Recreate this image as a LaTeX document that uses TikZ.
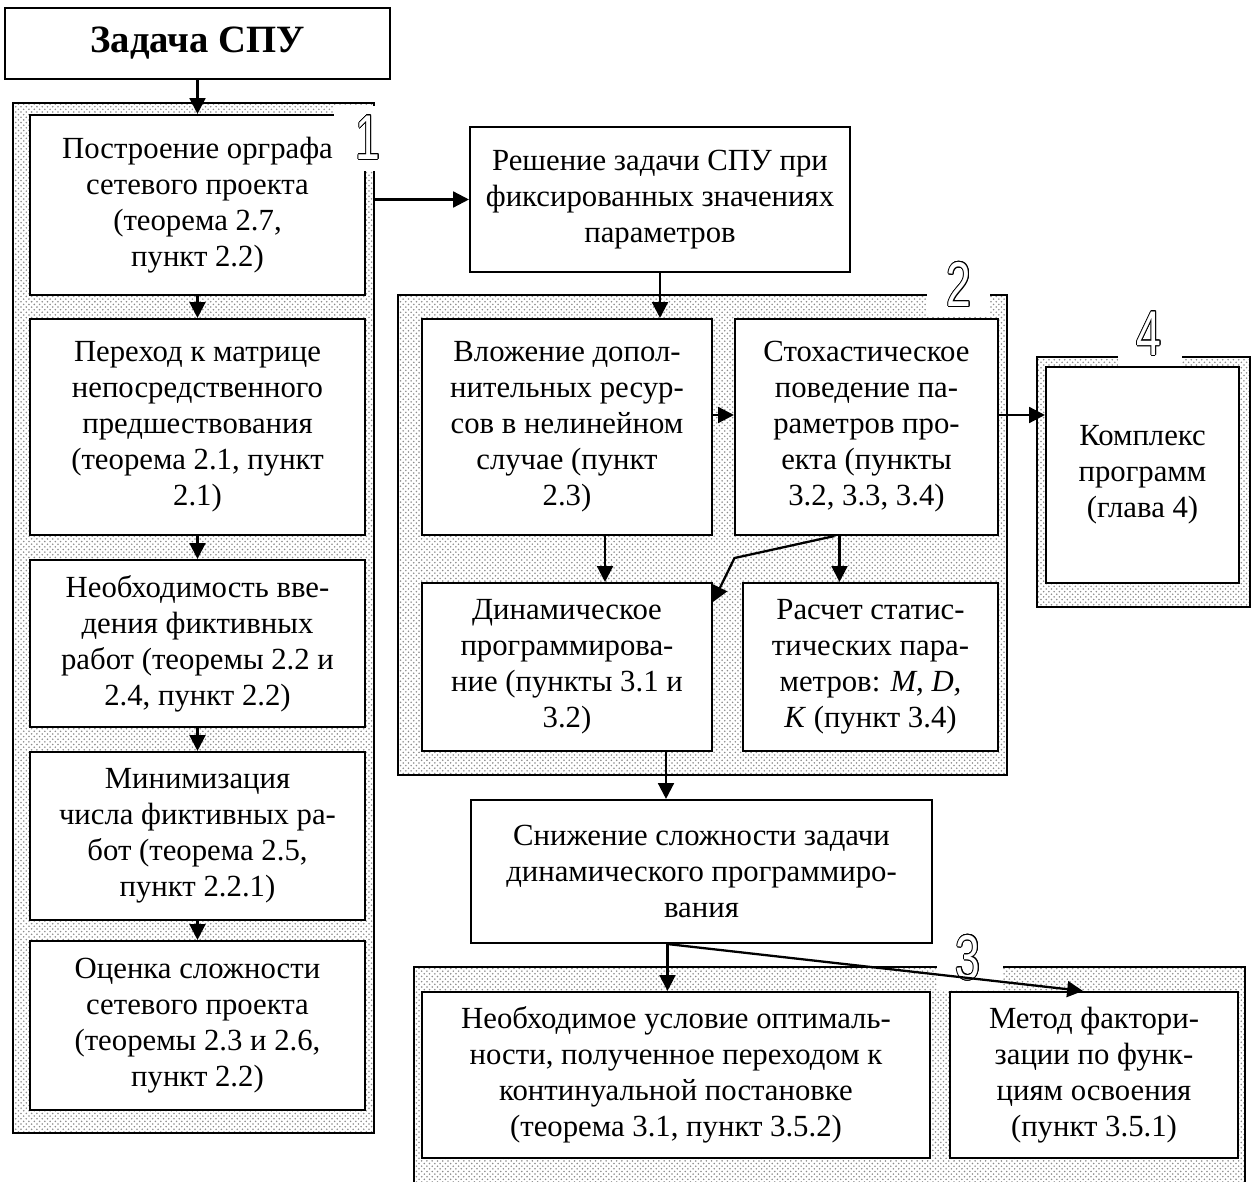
\documentclass[tikz,border=0pt]{standalone}
\usepackage{fontspec}
\setmainfont{Liberation Serif}
\newfontfamily\digitfont{Liberation Sans}
\usepackage{contour}
\contourlength{0.6pt}
\usetikzlibrary{arrows.meta, calc, patterns}

\begin{document}
\begin{tikzpicture}[x=0.02cm, y=-0.02cm,
    blk/.style={draw, line width=1.2pt, fill=white, align=center, inner sep=2pt,
                font=\fontsize{17.5}{20.5}\selectfont},
    grp/.style={draw, line width=1.3pt, pattern=crosshatch dots, pattern color=black!45,
                inner sep=0pt},
    num/.style={font=\digitfont\fontsize{36}{36}\selectfont, text=white, inner sep=0pt},
    arrow/.style={-{Triangle[length=9pt,width=9pt]}, line width=1.3pt}
  ]
    \useasboundingbox (0,0) rectangle (1252,1182);
    \clip (0,0) rectangle (1252,1182);

    \node[grp, minimum width=7.22cm, minimum height=20.6cm] (grp1) at (193.5,618) {};
    \node[grp, minimum width=12.18cm, minimum height=9.6cm] (grp2) at (702.5,535) {};
    \node[grp, minimum width=16.62cm, minimum height=4.56cm] (grp3) at (829.5,1081) {};
    \node[grp, minimum width=4.26cm, minimum height=5cm] (grp4) at (1143.5,482) {};

    \node[blk, font=\bfseries\fontsize{22}{26}\selectfont, minimum width=7.7cm,
          minimum height=1.42cm] (zad) at (197.5,43.5) {Задача СПУ};

    \node[blk, minimum width=6.7cm, minimum height=3.6cm] (postr) at (197.5,205)
      {Построение орграфа\\сетевого проекта\\(теорема 2.7,\\пункт 2.2)};
    \node[blk, minimum width=6.7cm, minimum height=4.32cm] (perehod) at (197.5,427)
      {Переход к матрице\\непосредственного\\предшествования\\(теорема 2.1, пункт\\2.1)};
    \node[blk, minimum width=6.7cm, minimum height=3.34cm] (fikt) at (197.5,643.5)
      {Необходимость вве-\\дения фиктивных\\работ (теоремы 2.2 и\\2.4, пункт 2.2)};
    \node[blk, minimum width=6.7cm, minimum height=3.36cm] (minim) at (197.5,836)
      {Минимизация\\числа фиктивных ра-\\бот (теорема 2.5,\\пункт 2.2.1)};
    \node[blk, minimum width=6.7cm, minimum height=3.38cm] (ocenka) at (197.5,1025.5)
      {Оценка сложности\\сетевого проекта\\(теоремы 2.3 и 2.6,\\пункт 2.2)};

    \node[blk, minimum width=7.6cm, minimum height=2.9cm] (res) at (660,199.5)
      {Решение задачи СПУ при\\фиксированных значениях\\параметров};

    \node[blk, minimum width=5.8cm, minimum height=4.32cm] (vlozh) at (567,427)
      {Вложение допол-\\нительных ресур-\\сов в нелинейном\\случае (пункт\\2.3)};
    \node[blk, minimum width=5.26cm, minimum height=4.32cm] (stoch) at (866.5,427)
      {Стохастическое\\поведение па-\\раметров про-\\екта (пункты\\3.2, 3.3, 3.4)};
    \node[blk, minimum width=5.8cm, minimum height=3.36cm] (dyn) at (567,667)
      {Динамическое\\программирова-\\ние (пункты 3.1 и\\3.2)};
    \node[blk, minimum width=5.1cm, minimum height=3.36cm] (stat) at (870.5,667)
      {Расчет статис-\\тических пара-\\метров: \textit{M, D,}\\\textit{K} (пункт 3.4)};

    \node[blk, minimum width=3.86cm, minimum height=4.32cm] (kompl) at (1142.5,475)
      {Комплекс\\программ\\ (глава 4)};

    \node[blk, minimum width=9.22cm, minimum height=2.86cm] (snizh) at (701.5,871.5)
      {Снижение сложности задачи\\динамического программиро-\\вания};

    \node[blk, minimum width=10.16cm, minimum height=3.32cm] (uslov) at (676,1075)
      {Необходимое условие оптималь-\\ности, полученное переходом к\\континуальной постановке\\(теорема 3.1, пункт 3.5.2)};
    \node[blk, minimum width=5.76cm, minimum height=3.32cm] (faktor) at (1094,1075)
      {Метод фактори-\\зации по функ-\\циям освоения\\(пункт 3.5.1)};

    \fill[white] (334,106) rectangle (382,171);
    \fill[white] (927,288) rectangle (990,317);
    \fill[white] (937,960) rectangle (1003,990);
    \fill[white] (1118,350) rectangle (1182,366);
    \node[num] (n1) at (368,138) {\scalebox{0.7}[1]{\contour{black}{1}}};
    \node[num] (n2) at (959,285) {\scalebox{0.7}[1]{\contour{black}{2}}};
    \node[num] (n3) at (968,958) {\scalebox{0.7}[1]{\contour{black}{3}}};
    \node[num] (n4) at (1149,334) {\scalebox{0.7}[1]{\contour{black}{4}}};

    \draw[arrow] (zad) -- (postr);
    \draw[arrow] (postr) -- (perehod);
    \draw[arrow] (perehod) -- (fikt);
    \draw[arrow] (fikt) -- (minim);
    \draw[arrow] (minim) -- (ocenka);
    \draw[arrow] (res.west -| grp1.east) -- (res.west);
    \draw[arrow] (res.south) -- (res.south |- vlozh.north);
    \draw[arrow] ($(vlozh.east)+(0,-12)$) -- ($(stoch.west)+(0,-12)$);
    \draw[arrow] ($(vlozh.south)+(38,0)$) -- ($(dyn.north)+(38,0)$);
    \draw[arrow] ($(stoch.south)+(-27,0)$) coordinate (st) -- (st |- stat.north);
    \draw[arrow] ($(stoch.south)+(-32,0)$) -- ++(-100,22) -- ($(dyn.north east)+(0,20)$);
    \draw[arrow] ($(stoch.east)+(0,-12)$) coordinate (se) -- (se -| kompl.west);
    \draw[arrow] ($(dyn.south)+(99,0)$) coordinate (ds) -- (ds |- snizh.north);
    \draw[arrow] ($(snizh.south)+(-34,0)$) coordinate (ss) -- (ss |- uslov.north);
    \draw[arrow] (ss) -- ($(faktor.north)+(-11,0)$);
\end{tikzpicture}
\end{document}
